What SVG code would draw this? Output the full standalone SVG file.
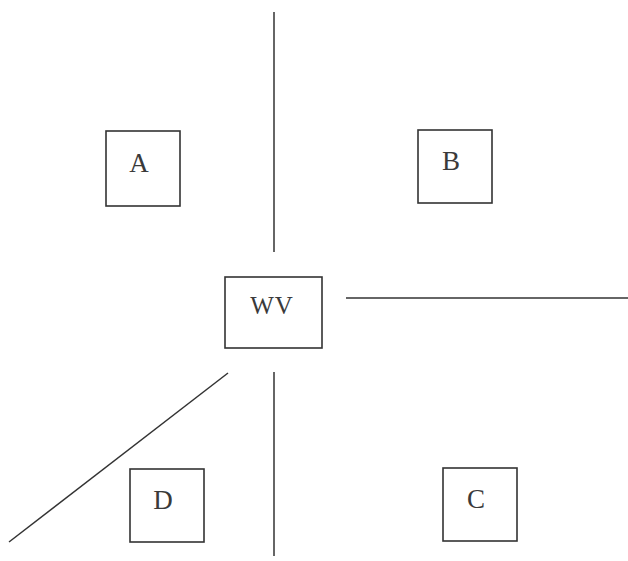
<svg xmlns="http://www.w3.org/2000/svg" width="628" height="561" viewBox="0 0 628 561">
<style>
.box{fill:#fff;stroke:#333;stroke-width:1.6}
.lbl{font-family:"Liberation Serif",serif;font-size:27px;fill:#3a3a3a;text-anchor:middle;dominant-baseline:central}
.ln{stroke:#333;stroke-width:1.5;fill:none}
</style>
<rect width="628" height="561" fill="#fff"/>
<g id="connectors">
<line class="ln" x1="274" y1="12" x2="274" y2="252"/>
<line class="ln" x1="274" y1="372" x2="274" y2="556"/>
<line class="ln" x1="346" y1="298" x2="628" y2="298"/>
<line class="ln" x1="228" y1="373" x2="9" y2="542"/>
</g>
<g id="A"><rect class="box" x="106" y="131" width="74" height="75"/><text class="lbl" x="139" y="163">A</text></g>
<g id="B"><rect class="box" x="418" y="130" width="74" height="73"/><text class="lbl" x="451" y="161">B</text></g>
<g id="WV"><rect class="box" x="225" y="277" width="97" height="71"/><text class="lbl" x="272" y="305" style="font-size:25px;letter-spacing:1px">WV</text></g>
<g id="D"><rect class="box" x="130" y="469" width="74" height="73"/><text class="lbl" x="163" y="500">D</text></g>
<g id="C"><rect class="box" x="443" y="468" width="74" height="73"/><text class="lbl" x="476" y="499">C</text></g>
</svg>
